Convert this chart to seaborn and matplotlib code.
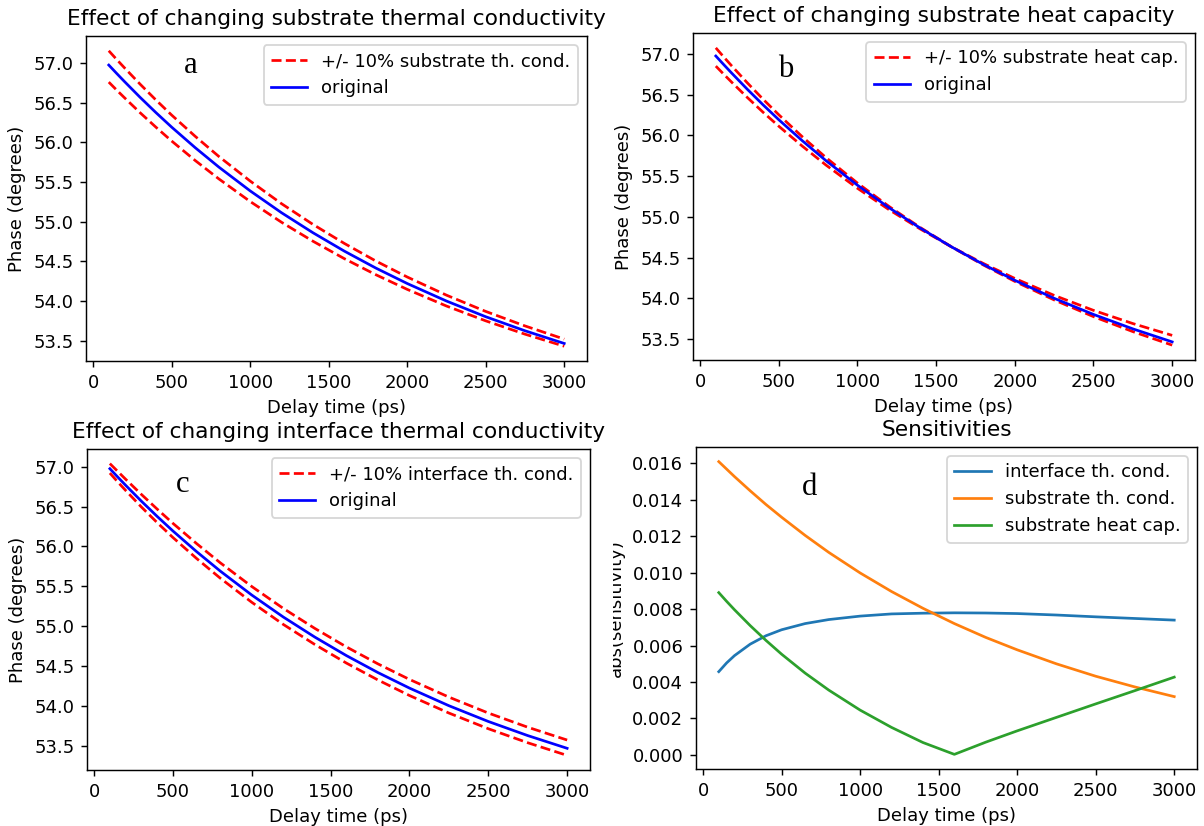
import numpy as np
import matplotlib
matplotlib.use("Agg")
import matplotlib.pyplot as plt
import seaborn as sns
from matplotlib.transforms import Bbox, TransformedBbox

# ==========================================
# Data
# ==========================================
delay_ps = [100, 150, 200, 300, 400, 500, 650, 800, 1000, 1200,
            1400, 1600, 1800, 2000, 2250, 2500, 2750, 3000]

# phase of the unperturbed model (degrees), same in panels a-c
phase_original = [56.975, 56.870, 56.767, 56.567, 56.376, 56.193, 55.934, 55.690, 55.389,
                  55.113, 54.861, 54.629, 54.416, 54.221, 54.000, 53.802, 53.625, 53.465]

# a: substrate thermal conductivity +/- 10%
sub_cond_hi = [57.155, 57.046, 56.940, 56.733, 56.535, 56.345, 56.077, 55.824, 55.513,
               55.227, 54.966, 54.726, 54.505, 54.303, 54.074, 53.869, 53.686, 53.520]
sub_cond_lo = [56.760, 56.660, 56.563, 56.373, 56.192, 56.018, 55.772, 55.541, 55.255,
               54.993, 54.754, 54.534, 54.332, 54.147, 53.937, 53.750, 53.582, 53.430]

# b: substrate heat capacity +/- 10% (curves cross near 1600 ps)
heat_cap_p = [57.075, 56.964, 56.856, 56.646, 56.445, 56.254, 55.983, 55.728, 55.415,
              55.129, 54.868, 54.629, 54.409, 54.208, 53.980, 53.775, 53.591, 53.425]
heat_cap_m = [56.851, 56.752, 56.655, 56.466, 56.285, 56.113, 55.868, 55.636, 55.351,
              55.089, 54.850, 54.629, 54.428, 54.244, 54.036, 53.852, 53.690, 53.545]

# c: interface thermal conductivity +/- 10%
int_cond_hi = [57.039, 56.941, 56.843, 56.652, 56.468, 56.289, 56.035, 55.794, 55.496,
               55.221, 54.970, 54.738, 54.525, 54.330, 54.108, 53.908, 53.730, 53.569]
int_cond_lo = [56.920, 56.809, 56.702, 56.494, 56.298, 56.111, 55.848, 55.601, 55.298,
               55.020, 54.768, 54.535, 54.323, 54.128, 53.908, 53.711, 53.535, 53.376]

# d: abs(sensitivity)
sens_interface = [0.00457, 0.00505, 0.00545, 0.00608, 0.00654, 0.00687, 0.00721, 0.00743, 0.00762,
                  0.00774, 0.00778, 0.00780, 0.00779, 0.00776, 0.00768, 0.00758, 0.00749, 0.00740]
sens_sub_cond = [0.01610, 0.01569, 0.01528, 0.01450, 0.01375, 0.01305, 0.01205, 0.01112, 0.00999,
                 0.00897, 0.00805, 0.00721, 0.00645, 0.00577, 0.00500, 0.00432, 0.00373, 0.00320]
sens_heat_cap = [0.00891, 0.00843, 0.00797, 0.00710, 0.00629, 0.00553, 0.00449, 0.00356, 0.00246,
                 0.00151, 0.00068, 0.00003, 0.00070, 0.00132, 0.00206, 0.00280, 0.00353, 0.00427]

panel_titles = ["Effect of changing substrate thermal conductivity",
                "Effect of changing substrate heat capacity",
                "Effect of changing interface thermal conductivity",
                "Sensitivities"]
band_labels = ["+/- 10% substrate th. cond.",
               "+/- 10% substrate heat cap.",
               "+/- 10% interface th. cond."]
sens_labels = ["interface th. cond.", "substrate th. cond.", "substrate heat cap."]
panel_letters = ["a", "b", "c", "d"]

phase_ticks = [53.5, 54.0, 54.5, 55.0, 55.5, 56.0, 56.5, 57.0]
sens_ticks = [0.000, 0.002, 0.004, 0.006, 0.008, 0.010, 0.012, 0.014, 0.016]
delay_ticks = [0, 500, 1000, 1500, 2000, 2500, 3000]

# ==========================================
# Figure layout
# ==========================================
W, H, DPI = 1204, 826, 130
fig = plt.figure(figsize=(W / DPI, H / DPI), dpi=DPI)

def px_axes(x0, x1, y0, y1):
    return fig.add_axes([x0 / W, 1 - y1 / H, (x1 - x0) / W, (y1 - y0) / H])

ax_a = px_axes(86, 587, 36, 361)
ax_b = px_axes(693, 1195, 33, 360)
ax_c = px_axes(87, 590, 449, 770)
ax_d = px_axes(696, 1197, 447, 769)

letter_pos = [(0.208, 0.91), (0.185, 0.887), (0.191, 0.889), (0.2275, 0.873)]

bands = [(ax_a, sub_cond_hi, sub_cond_lo),
         (ax_b, heat_cap_p, heat_cap_m),
         (ax_c, int_cond_hi, int_cond_lo)]

for i, (ax, hi, lo) in enumerate(bands):
    sns.lineplot(x=delay_ps, y=hi, ax=ax, color="r", linestyle="--", label=band_labels[i])
    sns.lineplot(x=delay_ps, y=lo, ax=ax, color="r", linestyle="--")
    sns.lineplot(x=delay_ps, y=phase_original, ax=ax, color="b", label="original")
    ax.set_ylabel("Phase (degrees)")
    ax.set_xlabel("Delay time (ps)")
    ax.set_yticks(phase_ticks)
    ax.legend(loc="upper right")

sns.lineplot(x=delay_ps, y=sens_interface, ax=ax_d, color="C0", label=sens_labels[0])
sns.lineplot(x=delay_ps, y=sens_sub_cond, ax=ax_d, color="C1", label=sens_labels[1])
sns.lineplot(x=delay_ps, y=sens_heat_cap, ax=ax_d, color="C2", label=sens_labels[2])
ax_d.set_xlabel("Delay time (ps)")
ax_d.set_ylabel("abs(sensitivity)")
ax_d.set_yticks(sens_ticks)
ax_d.set_yticklabels([f"{v:.3f}" for v in sens_ticks])
ax_d.legend(loc="upper right")

for ax, title, letter, (lx, ly) in zip([ax_a, ax_b, ax_c, ax_d], panel_titles,
                                        panel_letters, letter_pos):
    ax.set_title(title, fontsize=12)
    ax.set_xticks(delay_ticks)
    ax.text(lx, ly, letter, transform=ax.transAxes, ha="center", va="center",
            fontsize=17, family="Liberation Serif")

# the y label of panel d is partly cut off in the original
lab = ax_d.yaxis.label
lab.set_clip_box(TransformedBbox(Bbox([[613 / W, 0], [1, 1]]), fig.transFigure))
lab.set_clip_on(True)

fig.savefig("out.png", dpi=DPI)
